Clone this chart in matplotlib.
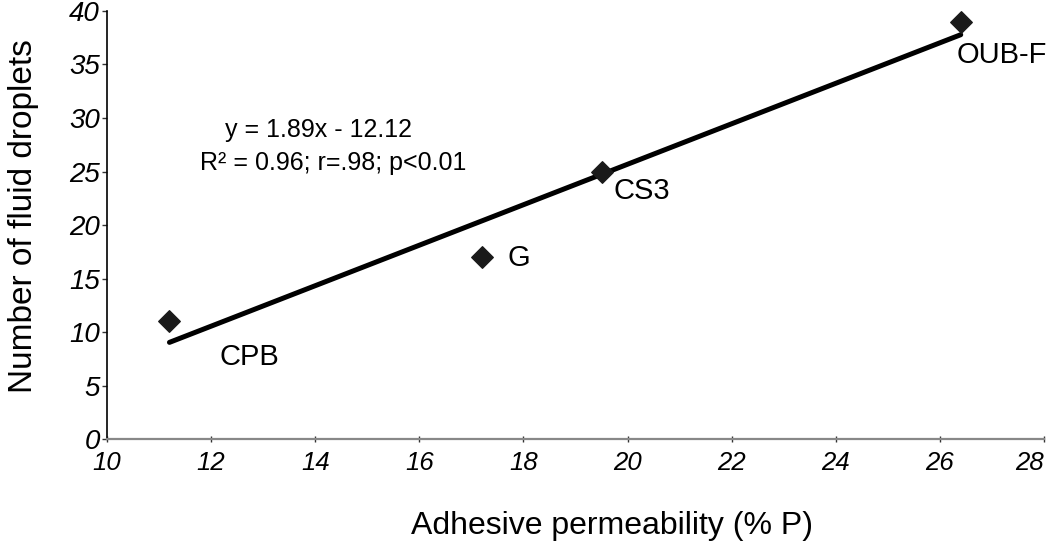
import matplotlib
matplotlib.use("Agg")
import matplotlib.pyplot as plt

plt.rcParams['font.family'] = ['Liberation Sans', 'DejaVu Sans']

names = ["CPB", "G", "CS3", "OUB-F"]
perm = [11.2, 17.2, 19.5, 26.4]
droplets = [11, 17, 25, 39]
slope, intercept = 1.89, -12.12
xticks = [10, 12, 14, 16, 18, 20, 22, 24, 26, 28]
yticks = [0, 5, 10, 15, 20, 25, 30, 35, 40]
label_offsets = [(1.53, -3.3), (0.72, -0.1), (0.78, -1.8), (0.78, -3.1)]

fig = plt.figure(figsize=(10.5, 5.45), dpi=100)
ax = fig.add_axes([0.1019, 0.194, 0.8924, 0.786])

ax.scatter(perm, droplets, marker='D', s=120, color='#1a1a1a', zorder=3)
xl = [min(perm), max(perm)]
ax.plot(xl, [slope * v + intercept for v in xl], color='black', lw=3.6,
        solid_capstyle='round', zorder=2)

for n, x, y, (dx, dy) in zip(names, perm, droplets, label_offsets):
    ax.text(x + dx, y + dy, n, fontsize=21, ha='center', va='center')

ax.text(14.07, 28.9, "y = 1.89x - 12.12", fontsize=18, ha='center', va='center')
ax.text(14.34, 25.8, "R\u00b2 = 0.96; r=.98; p<0.01", fontsize=18, ha='center', va='center')

ax.set_xlim(10, 28)
ax.set_ylim(0, 40)
ax.set_xticks(xticks)
ax.set_yticks(yticks)

ax.set_xticklabels([str(t) for t in xticks], fontsize=18.5, style='italic')
ax.set_yticklabels([str(t) for t in yticks], fontsize=20, style='italic')
ax.get_xticklabels()[-1].set_ha('right')

ax.spines['top'].set_visible(False)
ax.spines['right'].set_visible(False)
ax.spines['bottom'].set_color('#888888')
ax.spines['bottom'].set_linewidth(1.6)
ax.spines['left'].set_linewidth(1.2)
ax.tick_params(axis='x', direction='inout', length=5, width=1, color='#333333', pad=6)
ax.tick_params(axis='y', direction='out', length=3.5, width=1, color='#333333', pad=1.5)

ax.set_xlabel("Adhesive permeability (% P)", fontsize=23, labelpad=26)
ax.xaxis.label.set_x(0.539)
ax.set_ylabel("Number of fluid droplets", fontsize=24, labelpad=22)
ax.yaxis.label.set_y(0.52)

fig.savefig("out.png", dpi=100)
